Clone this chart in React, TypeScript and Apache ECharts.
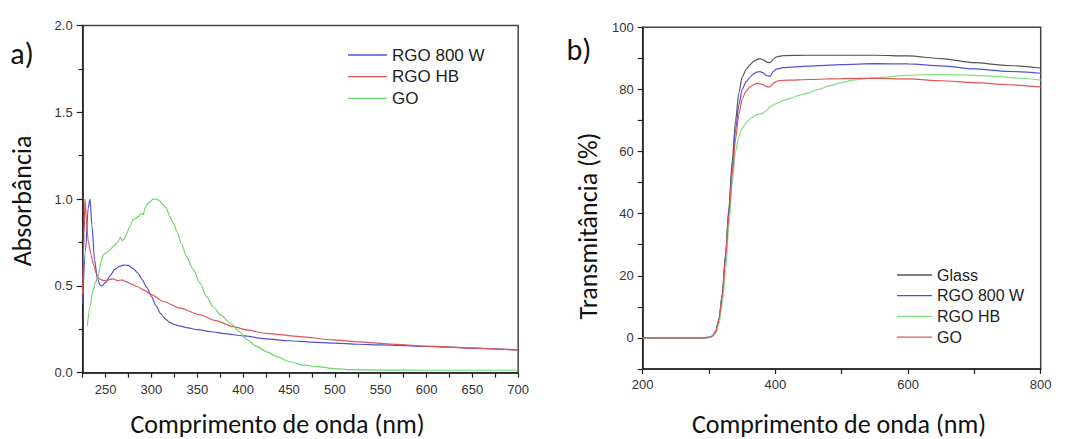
import React, { useEffect, useRef } from "react";
import * as echarts from "echarts";

// ---------- Data: (a) Absorbance ----------
const absRgo800w: [number, number][] = [
  [225, 0.4], [228, 0.7], [231, 0.95], [233, 1.0], [235, 0.85], [238, 0.65], [241, 0.54], [244, 0.505], [246, 0.5],
  [250, 0.52], [255, 0.56], [260, 0.595], [265, 0.613], [270, 0.62], [275, 0.618], [280, 0.6], [285, 0.575],
  [290, 0.535], [295, 0.49], [300, 0.44], [305, 0.385], [310, 0.34], [315, 0.31], [320, 0.29], [325, 0.278],
  [330, 0.27], [340, 0.258], [350, 0.248], [365, 0.236], [380, 0.225], [400, 0.212], [425, 0.195], [450, 0.184],
  [475, 0.176], [500, 0.17], [525, 0.164], [550, 0.16], [575, 0.156], [600, 0.151], [625, 0.147], [650, 0.142],
  [675, 0.137], [700, 0.13],
];
const absRgoHb: [number, number][] = [
  [225, 0.45], [226.5, 0.8], [227.5, 1.0], [229, 0.88], [231, 0.76], [234, 0.68], [237, 0.62], [240, 0.57],
  [243, 0.54], [248, 0.53], [253, 0.535], [258, 0.54], [263, 0.53], [268, 0.535], [272, 0.525], [278, 0.51],
  [285, 0.495], [291, 0.477], [300, 0.45], [313, 0.41], [331, 0.372], [353, 0.333], [370, 0.3], [389, 0.265],
  [405, 0.245], [425, 0.227], [462, 0.208], [498, 0.189], [527, 0.178], [560, 0.165], [600, 0.153],
  [650, 0.142], [700, 0.13],
];
const absGo: [number, number][] = [
  [230, 0.27], [233, 0.38], [236, 0.47], [239, 0.52], [242, 0.56], [245, 0.64], [247.5, 0.68], [251, 0.69],
  [255, 0.71], [259, 0.73], [263, 0.75], [266, 0.78], [268, 0.76], [270, 0.77], [273, 0.8], [276, 0.84],
  [280, 0.88], [283, 0.89], [286, 0.9], [289, 0.92], [291, 0.91], [293, 0.95], [297, 0.98], [302, 1.0],
  [306, 1.0], [309, 0.99], [312, 0.97], [316, 0.95], [320, 0.9], [324, 0.86], [328, 0.81], [333, 0.74],
  [338, 0.67], [345, 0.6], [353, 0.516], [360, 0.44], [367, 0.38], [376, 0.33], [386, 0.285], [395, 0.24],
  [404, 0.19], [415, 0.15], [426, 0.12], [438, 0.09], [451, 0.063], [465, 0.045], [480, 0.035], [500, 0.024],
  [516, 0.018], [550, 0.015], [600, 0.014], [650, 0.014], [700, 0.014],
];

// ---------- Data: (b) Transmittance ----------
const trGlass: [number, number][] = [
  [200, 0], [290, 0], [300, 0.2], [305, 0.6], [310, 2], [315, 6], [320, 14], [325, 27], [330, 42], [335, 57],
  [340, 70], [345, 79], [350, 84], [356, 86.5], [362, 88], [367, 89], [372, 89.6], [377, 89.9], [382, 89.5],
  [387, 88.8], [392, 88.6], [397, 89.8], [402, 90.5], [412, 90.9], [450, 91], [500, 91], [550, 91],
  [600, 90.8], [650, 89.9], [700, 88.6], [750, 87.7], [800, 86.9],
];
const trRgo800w: [number, number][] = [
  [200, 0], [290, 0], [300, 0.2], [305, 0.6], [310, 2], [315, 6], [320, 14], [325, 27], [330, 41], [335, 55],
  [340, 67], [345, 75], [350, 80], [356, 82.5], [362, 84], [367, 85], [372, 85.6], [377, 85.7], [382, 85.3],
  [387, 84.4], [392, 84.3], [397, 85.8], [402, 86.6], [412, 87], [450, 87.5], [500, 88], [550, 88.3],
  [600, 88.2], [650, 87.6], [700, 86.6], [750, 85.8], [800, 85.2],
];
const trRgoHb: [number, number][] = [
  [200, 0], [290, 0], [300, 0.2], [305, 0.5], [310, 1.5], [315, 4.5], [320, 11], [325, 22], [330, 36],
  [335, 50], [340, 60], [345, 65], [350, 67.5], [357, 69.5], [365, 71], [372, 71.8], [380, 72.3], [386, 73],
  [392, 74.4], [402, 75.5], [412, 76.5], [422, 77.1], [435, 78], [447, 78.7], [465, 80], [482, 81.2],
  [500, 82.2], [517, 83], [535, 83.5], [558, 83.9], [600, 84.5], [633, 84.8], [680, 84.7], [733, 84.2],
  [770, 83.6], [800, 83],
];
const trGo: [number, number][] = [
  [200, 0], [290, 0], [300, 0.2], [305, 0.6], [310, 2], [315, 6], [320, 13.5], [325, 26], [330, 40], [335, 53],
  [340, 64], [345, 72], [350, 77], [356, 79.5], [362, 80.8], [367, 81.5], [372, 82], [377, 81.8], [382, 81.5],
  [387, 80.9], [392, 80.8], [397, 82], [404, 82.8], [420, 83], [450, 83.2], [500, 83.5], [550, 83.6],
  [600, 83.4], [650, 82.8], [700, 82.2], [750, 81.5], [800, 80.8],
];

const legendA = ["RGO 800 W", "RGO HB", "GO"];
const legendB = ["Glass", "RGO 800 W", "RGO HB", "GO"];

const tickFont = 'Arial, "Liberation Sans", sans-serif';
const titleFont = 'Carlito, Calibri, Lato, "Open Sans", sans-serif';

function lineSeries(name: string, data: [number, number][], color: string) {
  return {
    type: "line",
    name,
    data,
    symbol: "none",
    smooth: 0.25,
    smoothMonotone: "x",
    lineStyle: { color, width: 1.2 },
    itemStyle: { color },
  };
}

function useChart(option: any) {
  const ref = useRef<HTMLDivElement>(null);
  useEffect(() => {
    document.body.style.margin = "0";
    if (!ref.current) return;
    const chart = echarts.init(ref.current, undefined, { renderer: "svg" });
    chart.setOption(option);
    return () => chart.dispose();
  }, []);
  return ref;
}

const axisLineStyle = { onZero: false, lineStyle: { color: "#222", width: 1.5 } };
const tickStyle = { lineStyle: { color: "#222", width: 1.2 } };
const titleStyle = { fontSize: 26, fontFamily: titleFont, fill: "#111", align: "center", verticalAlign: "middle" };

const optionA: any = {
  animation: false,
  grid: { left: 82.7, top: 25.5, width: 435.5, height: 347.2, show: true, borderColor: "#444", borderWidth: 1.5, backgroundColor: "transparent" },
  xAxis: {
    type: "value", min: 225, max: 700, interval: 25,
    axisLine: axisLineStyle, splitLine: { show: false },
    axisTick: { show: true, length: 5, ...tickStyle },
    axisLabel: {
      margin: 10, color: "#333", fontSize: 13, fontFamily: tickFont,
      formatter: (v: number) => (v % 50 === 0 ? String(v) : ""),
    },
  },
  yAxis: {
    type: "value", min: 0, max: 2, interval: 0.5,
    axisLine: { show: true, ...axisLineStyle }, splitLine: { show: false },
    axisTick: { show: true, length: 6, ...tickStyle },
    minorTick: { show: true, splitNumber: 2, length: 4, lineStyle: { color: "#222", width: 1.2 } },
    axisLabel: { margin: 10, color: "#333", fontSize: 13, fontFamily: tickFont, formatter: (v: number) => v.toFixed(1) },
  },
  legend: {
    orient: "vertical", left: 348, top: 46.5, padding: 0, icon: "rect", itemWidth: 39, itemHeight: 1.3, itemGap: 4.7,
    data: legendA, textStyle: { fontSize: 17, fontFamily: tickFont, color: "#222", padding: [0, 0, 0, 0] },
  },
  graphic: [
    { type: "text", x: 22, y: 53, style: { ...titleStyle, text: "a)", fontSize: 30 } },
    { type: "text", x: 22, y: 201, rotation: Math.PI / 2, style: { ...titleStyle, text: "Absorbância" } },
    { type: "text", x: 277.5, y: 424, style: { ...titleStyle, text: "Comprimento de onda (nm)" } },
  ],
  series: [
    lineSeries("RGO 800 W", absRgo800w, "#5050d8"),
    lineSeries("RGO HB", absRgoHb, "#e05555"),
    lineSeries("GO", absGo, "#6ed66e"),
  ],
};

const optionB: any = {
  animation: false,
  grid: { left: 102.7, top: 27.3, width: 398, height: 341.7, show: true, borderColor: "#444", borderWidth: 1.5, backgroundColor: "transparent" },
  xAxis: {
    type: "value", min: 200, max: 800, interval: 100,
    axisLine: axisLineStyle, splitLine: { show: false },
    axisTick: { show: true, length: 5, ...tickStyle },
    axisLabel: {
      margin: 9, color: "#333", fontSize: 13, fontFamily: tickFont,
      formatter: (v: number) => (v % 200 === 0 ? String(v) : ""),
    },
  },
  yAxis: {
    type: "value", min: -10, max: 100, interval: 10,
    axisLine: { show: true, ...axisLineStyle }, splitLine: { show: false },
    axisTick: { show: true, length: 5, ...tickStyle },
    axisLabel: {
      margin: 9, color: "#333", fontSize: 13, fontFamily: tickFont,
      formatter: (v: number) => (v >= 0 && v % 20 === 0 ? String(v) : ""),
    },
  },
  legend: {
    orient: "vertical", left: 357, top: 267, padding: 0, icon: "rect", itemWidth: 35, itemHeight: 1.3, itemGap: 4.7,
    data: legendB, textStyle: { fontSize: 16, fontFamily: tickFont, color: "#222" },
  },
  graphic: [
    { type: "text", x: 39, y: 49, style: { ...titleStyle, text: "b)", fontSize: 30 } },
    { type: "text", x: 48, y: 226, rotation: Math.PI / 2, style: { ...titleStyle, text: "Transmitância (%)" } },
    { type: "text", x: 299, y: 424, style: { ...titleStyle, text: "Comprimento de onda (nm)" } },
  ],
  series: [
    lineSeries("Glass", trGlass, "#555555"),
    lineSeries("RGO 800 W", trRgo800w, "#5050d8"),
    lineSeries("RGO HB", trRgoHb, "#7ee07e"),
    lineSeries("GO", trGo, "#e05555"),
  ],
};

export default function App() {
  const refA = useChart(optionA);
  const refB = useChart(optionB);
  return (
    <div style={{ position: "relative", width: 1072, height: 439, background: "#fff" }}>
      <div ref={refA} style={{ position: "absolute", left: 0, top: 0, width: 540, height: 439 }} />
      <div ref={refB} style={{ position: "absolute", left: 540, top: 0, width: 532, height: 439 }} />
    </div>
  );
}
